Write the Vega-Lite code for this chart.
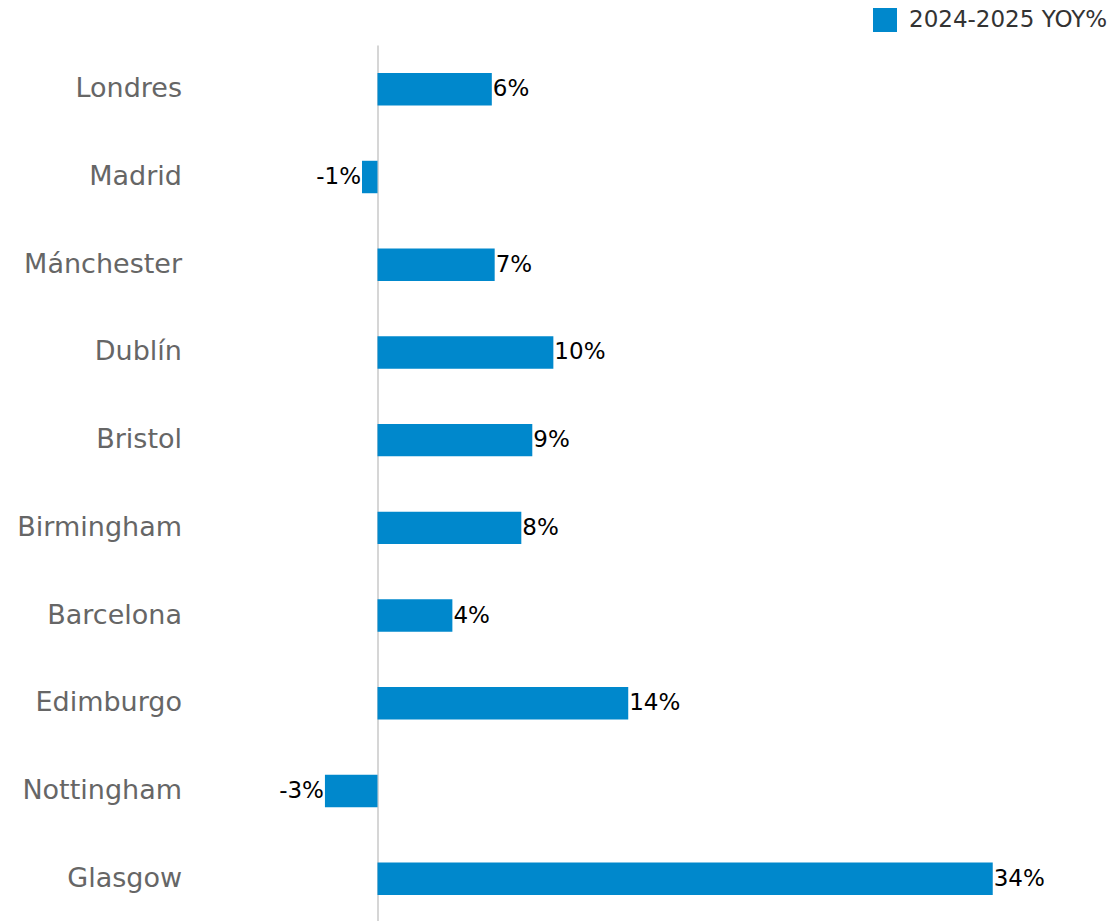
{
  "$schema": "https://vega.github.io/schema/vega-lite/v6.json",
  "autosize": {"type": "none"},
  "padding": {"left": 197.5, "top": 45, "right": 19.5, "bottom": 0},
  "width": 900,
  "height": 878,
  "background": "white",
  "config": {
    "font": "DejaVu Sans",
    "view": {"stroke": null}
  },
  "data": {
    "values": [
      {"city": "Londres", "v": 6.35, "label": "6%", "series": "2024-2025 YOY%"},
      {"city": "Madrid", "v": -0.86, "label": "-1%", "series": "2024-2025 YOY%"},
      {"city": "Mánchester", "v": 6.51, "label": "7%", "series": "2024-2025 YOY%"},
      {"city": "Dublín", "v": 9.77, "label": "10%", "series": "2024-2025 YOY%"},
      {"city": "Bristol", "v": 8.6, "label": "9%", "series": "2024-2025 YOY%"},
      {"city": "Birmingham", "v": 7.99, "label": "8%", "series": "2024-2025 YOY%"},
      {"city": "Barcelona", "v": 4.16, "label": "4%", "series": "2024-2025 YOY%"},
      {"city": "Edimburgo", "v": 13.93, "label": "14%", "series": "2024-2025 YOY%"},
      {"city": "Nottingham", "v": -2.92, "label": "-3%", "series": "2024-2025 YOY%"},
      {"city": "Glasgow", "v": 34.18, "label": "34%", "series": "2024-2025 YOY%"}
    ]
  },
  "encoding": {
    "y": {
      "field": "city",
      "type": "nominal",
      "sort": null,
      "scale": {"paddingInner": 0.63, "paddingOuter": 0.32},
      "axis": {
        "title": null,
        "domain": false,
        "ticks": false,
        "labelPadding": 16,
        "labelFontSize": 27,
        "labelColor": "#666666",
        "labelFont": "DejaVu Sans",
        "labelLimit": 0
      }
    },
    "x": {
      "field": "v",
      "type": "quantitative",
      "scale": {"domain": [-10, 40], "nice": false},
      "axis": {
        "title": null,
        "labels": false,
        "ticks": false,
        "domain": false,
        "values": [0],
        "grid": true,
        "gridColor": "#d6d6d6",
        "gridWidth": 2
      }
    }
  },
  "layer": [
    {
      "mark": {"type": "bar", "color": "#0088cc"},
      "encoding": {
        "color": {
          "field": "series",
          "type": "nominal",
          "scale": {"range": ["#0088cc"]},
          "legend": {
            "title": null,
            "orient": "none",
            "legendX": 675.5,
            "legendY": -37,
            "padding": 0,
            "symbolType": "square",
            "symbolSize": 576,
            "symbolStrokeWidth": 0,
            "labelFontSize": 23,
            "labelColor": "#333333",
            "labelFont": "DejaVu Sans",
            "labelOffset": 12,
            "labelLimit": 0
          }
        }
      }
    },
    {
      "mark": {
        "type": "text",
        "fontSize": 23,
        "color": "#000000",
        "baseline": "middle",
        "align": {"expr": "datum.v < 0 ? 'right' : 'left'"},
        "dx": {"expr": "datum.v < 0 ? -1 : 1"}
      },
      "encoding": {
        "text": {"field": "label"}
      }
    }
  ]
}
